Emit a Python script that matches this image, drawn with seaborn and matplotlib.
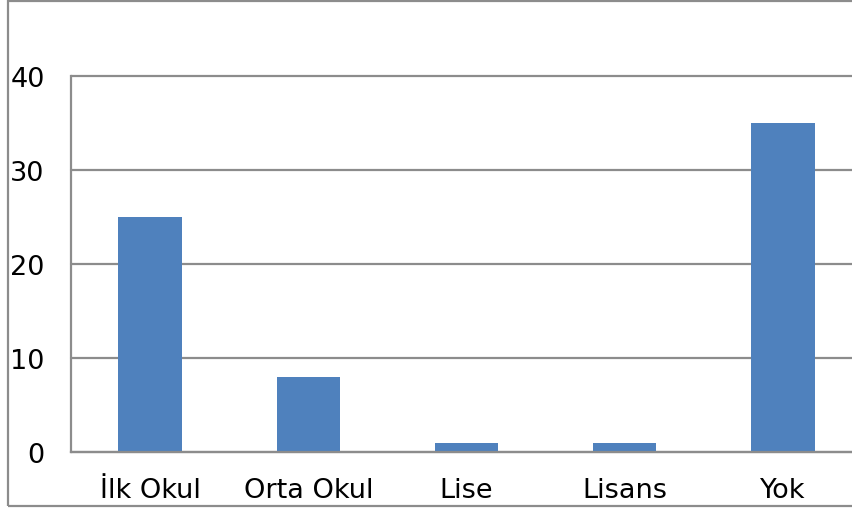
import numpy as np
import pandas as pd
import matplotlib.pyplot as plt
import seaborn as sns
from matplotlib.patches import Rectangle

# education level counts
categories = ['İlk Okul', 'Orta Okul', 'Lise', 'Lisans', 'Yok']
values = [25, 8, 1, 1, 35]
y_ticks = [0, 10, 20, 30, 40]

df = pd.DataFrame({'Egitim': categories, 'Sayi': values})

sns.set_style('white')
plt.rcParams['font.family'] = ['DejaVu Sans']

fig = plt.figure(figsize=(8.53, 5.10), dpi=100)
ax = fig.add_axes([71 / 853, 1 - 453 / 510, 791 / 853, 376 / 510])

sns.barplot(data=df, x='Egitim', y='Sayi', color='#4F81BD', width=0.4,
            saturation=1, edgecolor='none', ax=ax)

ax.set_xlim(-0.5, 4.5)
ax.set_ylim(0, 40)
ax.set_yticks(y_ticks)
ax.set_xlabel('')
ax.set_ylabel('')
ax.set_axisbelow(True)
ax.yaxis.grid(True, color='#8c8c8c', linewidth=1.6)
ax.xaxis.grid(False)
# keep the top gridline at full thickness
for line in ax.get_ygridlines():
    line.set_clip_on(False)

for side in ['top', 'right']:
    ax.spines[side].set_visible(False)
for side in ['left', 'bottom']:
    ax.spines[side].set_color('#8c8c8c')
    ax.spines[side].set_linewidth(1.6)

ax.tick_params(axis='y', length=0, pad=19, labelsize=19.5, labelcolor='black')
ax.tick_params(axis='x', length=0, pad=18, labelsize=19.5, labelcolor='black')

# outer chart frame (cropped on the right)
frame = Rectangle((8 / 853, 1 - 507 / 510), 1.0, 505 / 510,
                  transform=fig.transFigure, fill=False,
                  edgecolor='#8c8c8c', linewidth=1.6, clip_on=False)
fig.patches.append(frame)

plt.savefig('out.png', dpi=100)
